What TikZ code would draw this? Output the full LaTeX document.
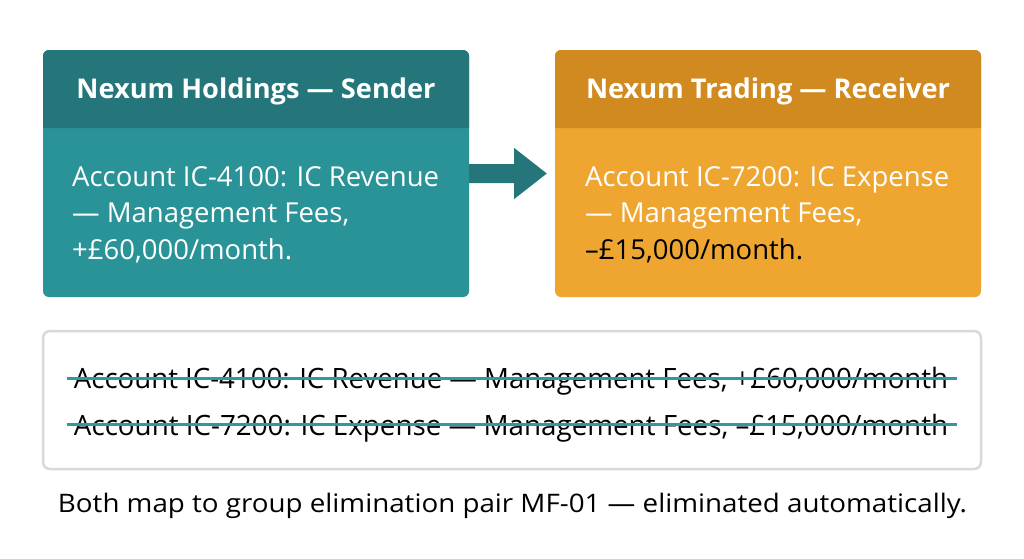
\documentclass[tikz,border=0pt]{standalone}
\usepackage{fontspec}
\setmainfont{Open Sans}
\usetikzlibrary{calc}
\definecolor{tealhead}{HTML}{24767A}
\definecolor{tealbody}{HTML}{2A9398}
\definecolor{orghead}{HTML}{D08A1F}
\definecolor{orgbody}{HTML}{EFA630}
\definecolor{boxgray}{HTML}{D6DADE}
\definecolor{striketeal}{HTML}{2E9A9E}
\newcommand\fitw[2]{\resizebox{#1}{\height}{#2}}
\tikzset{
  cardbody/.style={rectangle, rounded corners=6pt, minimum width=426pt, minimum height=247pt, inner sep=0pt},
  headtext/.style={anchor=base, text=white, font=\fontsize{27.2}{32}\selectfont\bfseries, inner sep=0pt},
  bodytext/.style={anchor=west, text=white, align=left, font=\fontsize{27.5}{36.7}\selectfont, inner sep=0pt},
  striketext/.style={anchor=base, text=black, font=\fontsize{28}{33}\selectfont, inner sep=0pt},
  strikeline/.style={draw=striketeal, line width=3pt},
  elimbox/.style={rectangle, draw=boxgray, line width=2.5pt, rounded corners=7pt, fill=white, minimum width=938pt, minimum height=138pt},
  captext/.style={anchor=base, text=black, font=\fontsize{25.5}{30}\selectfont, inner sep=0pt},
}
\begin{document}
\begin{tikzpicture}[x=1pt, y=-1pt]
\useasboundingbox[fill=white] (0,0) rectangle (1024,558);

% left card
\node[cardbody, fill=tealbody] (lbox) at (256,173.5) {};
\fill[tealhead] (43,128) {[rounded corners=6pt] -- (43,50) -- (469,50)} -- (469,128) -- cycle;
\node[headtext] (lhead) at (256,98.5) {Nexum Holdings — Sender};
\node[bodytext] (lbody) at (72,214.5) {Account IC-4100: IC Revenue\\— Management Fees,\\+£60,000/month.};

% right card
\node[cardbody, fill=orgbody] (rbox) at (768,173.5) {};
\fill[orghead] (555,128) {[rounded corners=6pt] -- (555,50) -- (981,50)} -- (981,128) -- cycle;
\node[headtext] (rhead) at (768,98.5) {Nexum Trading — Receiver};
\node[bodytext] (rbody) at (585,214.5) {Account IC-7200: IC Expense\\— Management Fees,\\\textcolor{black}{–£15,000/month.}};

% arrow
\coordinate (as) at (lbox.east);
\coordinate (ae) at ($(rbox.west)+(-8,0)$);
\fill[tealhead] ($(as)+(0,-9.5)$) -- ($(as)+(45,-9.5)$) -- ($(as)+(45,-25.5)$) -- (ae)
  -- ($(as)+(45,25.5)$) -- ($(as)+(45,9.5)$) -- ($(as)+(0,9.5)$) -- cycle;

% elimination box
\node[elimbox] (elim) at (512,400) {};
\node[striketext] (s1) at (511,388) {\fitw{874pt}{Account IC-4100: IC Revenue — Management Fees, +£60,000/month}};
\node[striketext] (s2) at (511,435) {\fitw{874pt}{Account IC-7200: IC Expense — Management Fees, –£15,000/month}};
\draw[strikeline] ($(s1.base west)+(-7,-10)$) -- ($(s1.base east)+(9,-10)$);
\draw[strikeline] ($(s2.base west)+(-7,-11)$) -- ($(s2.base east)+(9,-11)$);

% caption
\node[captext] (cap) at (512.5,512) {\fitw{909pt}{Both map to group elimination pair MF-01 — eliminated automatically.}};
\end{tikzpicture}
\end{document}
